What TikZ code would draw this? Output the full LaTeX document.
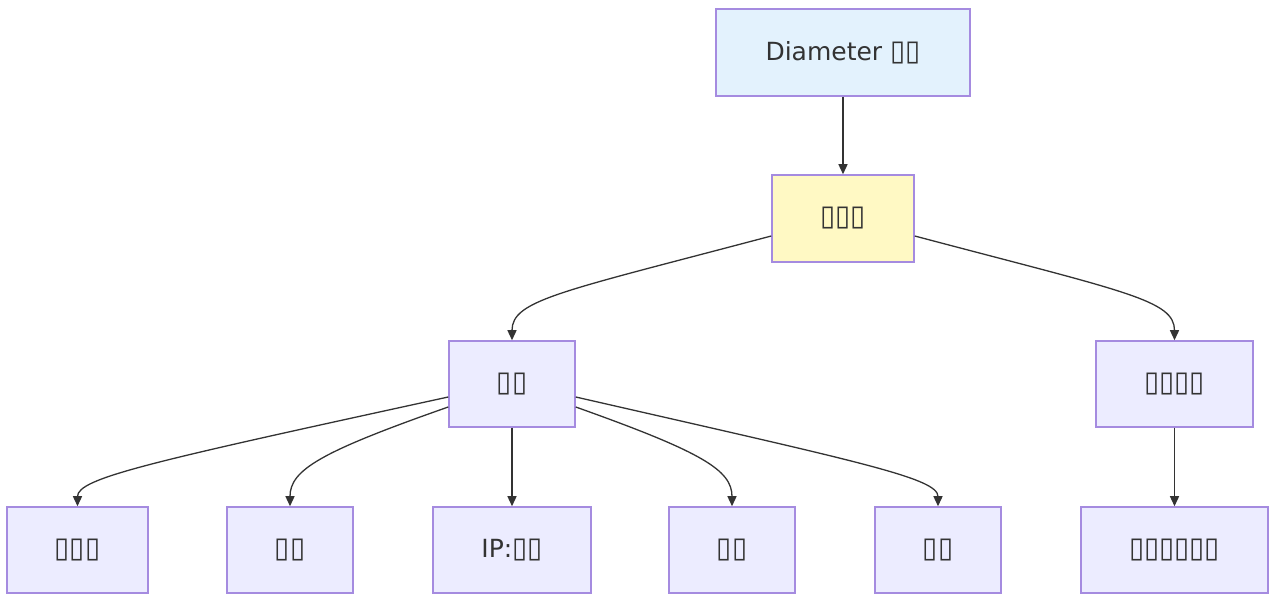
\documentclass[tikz,border=0pt]{standalone}
\usepackage{fontspec}
\usepackage{graphicx}
\setmainfont{DejaVu Sans}
\usetikzlibrary{calc,arrows.meta}

\definecolor{nodeline}{HTML}{A58BE0}
\definecolor{nodefill}{HTML}{ECECFF}
\definecolor{topfill}{HTML}{E3F2FD}
\definecolor{srvfill}{HTML}{FFF9C4}
\definecolor{edgecol}{HTML}{333333}

\newcommand{\tf}{\scalebox{1.1}[1.15]{▯}}

\begin{document}
\begin{tikzpicture}[
    x=1pt, y=1pt,
    >={Triangle[length=10pt,width=9pt]},
    box/.style={draw=nodeline, line width=1.5pt, fill=nodefill, text=edgecol,
        minimum height=86pt, inner sep=0pt, font=\fontsize{25}{30}\selectfont},
    edge/.style={->, draw=edgecol, line width=1.3pt}
]
\useasboundingbox (0,0) rectangle (1271,594);

% ========== 节点 ==========
\node[box, fill=topfill, minimum width=254pt, minimum height=87pt] (dia) at (843,541.5) {Diameter \tf\tf};
\node[box, fill=srvfill, minimum width=142pt, minimum height=87pt] (srv) at (843,375.5) {\tf\tf\tf};

\node[box, minimum width=126pt] (cl) at (512,210) {\tf\tf};
\node[box, minimum width=157pt] (rt) at (1174.5,210) {\tf\tf\tf\tf};

\node[box, minimum width=141pt] (b1) at (77.5,44) {\tf\tf\tf};
\node[box, minimum width=126pt] (b2) at (290,44) {\tf\tf};
\node[box, minimum width=158pt] (b3) at (512,44) {IP:\tf\tf};
\node[box, minimum width=126pt] (b4) at (732,44) {\tf\tf};
\node[box, minimum width=126pt] (b5) at (938,44) {\tf\tf};
\node[box, minimum width=187pt] (b6) at (1174.5,44) {\tf\tf\tf\tf\tf\tf};

% ========== 连线 ==========
\draw[edge] (dia.south) -- (srv.north);

\draw[edge] ([yshift=-17.5pt]srv.west) .. controls (560,302) and (512,294) .. (cl.north);
\draw[edge] ([yshift=-17.5pt]srv.east) .. controls (1126,302) and (1174.5,294) .. (rt.north);

\draw[edge] ([yshift=-13pt]cl.west) .. controls (150,132) and (77.5,116) .. (b1.north);
\draw[edge] ([yshift=-23pt]cl.west) .. controls (320,142) and (290,124) .. (b2.north);
\draw[edge] (cl.south) -- (b3.north);
\draw[edge] ([yshift=-23pt]cl.east) .. controls (702,142) and (732,124) .. (b4.north);
\draw[edge] ([yshift=-13pt]cl.east) .. controls (860,132) and (938,116) .. (b5.north);

\draw[edge] (rt.south) -- (b6.north);

\end{tikzpicture}
\end{document}
